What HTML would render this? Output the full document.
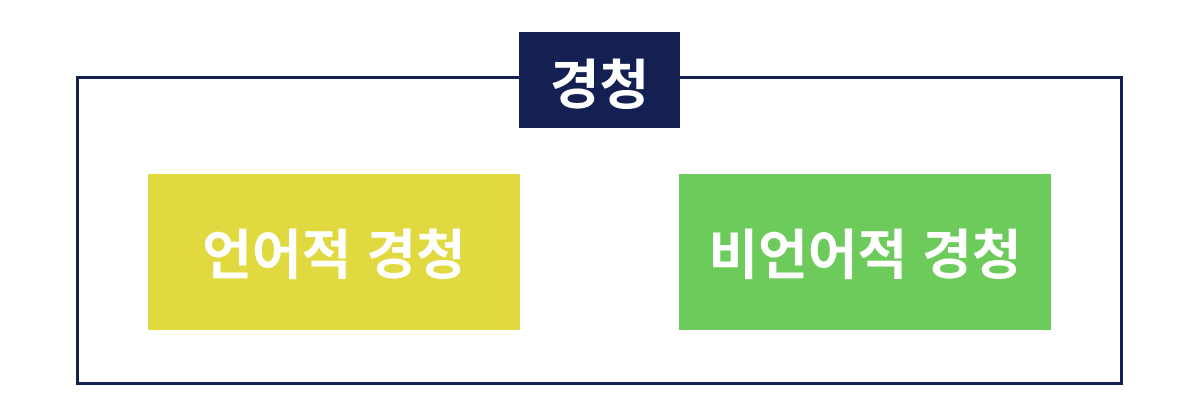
<!DOCTYPE html>
<html><head><meta charset="utf-8"><style>
body{margin:0;width:1200px;height:404px;background:#fff;position:relative;overflow:hidden;font-family:"Liberation Sans","Noto Sans CJK KR",sans-serif;}
.frame{position:absolute;left:76px;top:76px;width:1041px;height:303px;border:3px solid #141f52;}
.title{position:absolute;left:519px;top:32px;width:161px;height:96px;background:#141f52;color:#fff;font-weight:bold;font-size:54px;display:flex;align-items:center;justify-content:center;}
.box{position:absolute;top:174px;width:372px;height:156px;color:#fff;font-weight:bold;font-size:54px;display:flex;align-items:center;justify-content:center;box-sizing:border-box;padding-bottom:4px;}
</style></head><body>
<div class="frame"></div>
<div class="title">경청</div>
<div class="box" style="left:148px;background:#e0da40;">언어적 경청</div>
<div class="box" style="left:679px;background:#6dcb5c;">비언어적 경청</div>
</body></html>
